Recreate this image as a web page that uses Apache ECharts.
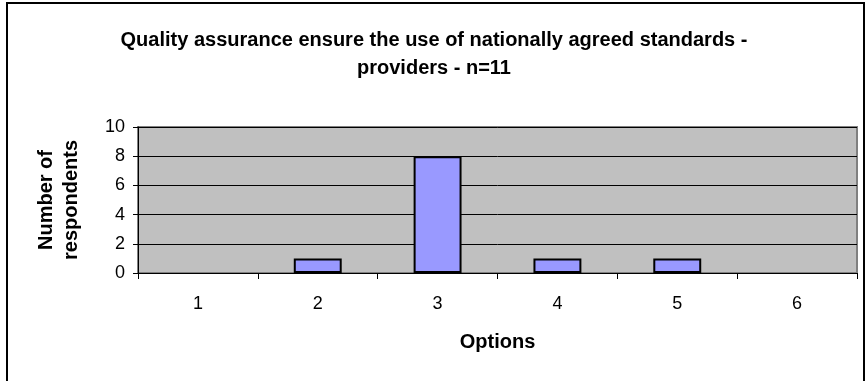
<!DOCTYPE html>
<html>
<head>
<meta charset="utf-8">
<title>Quality assurance - providers</title>
<script src="https://cdn.jsdelivr.net/npm/echarts@6/dist/echarts.min.js"></script>
<style>
  html, body { margin: 0; padding: 0; background: #fff; }
  #chart { width: 868px; height: 381px; }
</style>
</head>
<body>
<div id="chart"></div>
<script>
// data
var titleText = 'Quality assurance ensure the use of nationally agreed standards -\nproviders - n=11'
var categories = ['1', '2', '3', '4', '5', '6']
var respondents = [0, 1, 8, 1, 1, 0]
var yTicks = [0, 2, 4, 6, 8, 10]

var font = 'Arial, "Liberation Sans", sans-serif'

// a zero bar draws no outline in the original
var barData = respondents.map(function(v) {
  return v === 0 ? { value: v, itemStyle: { borderWidth: 0, opacity: 0 } } : v
})

var chart = echarts.init(document.getElementById('chart'))
var option = {
  animation: false,
  backgroundColor: '#fff',
  textStyle: { fontFamily: font },
  title: {
    text: titleText,
    left: 'center',
    top: 21,
    textStyle: {
      fontFamily: font,
      fontSize: 20,
      fontWeight: 'bold',
      color: '#000',
      lineHeight: 28
    }
  },
  // outer frame of the chart
  graphic: [
    {
      type: 'rect',
      shape: { x: 7, y: 3, width: 857, height: 400 },
      style: { fill: 'none', stroke: '#000', lineWidth: 2 },
      silent: true
    }
  ],
  grid: {
    left: 138,
    top: 127,
    right: 11,
    bottom: 108,
    show: true,
    backgroundColor: '#c0c0c0',
    borderColor: '#808080',
    borderWidth: 2
  },
  xAxis: {
    type: 'category',
    data: categories,
    name: 'Options',
    nameLocation: 'middle',
    nameGap: 59,
    nameTextStyle: { fontFamily: font, fontSize: 20, fontWeight: 'bold', color: '#000' },
    axisLine: { show: true, lineStyle: { color: '#000', width: 1 } },
    axisTick: { show: true, length: 6, lineStyle: { color: '#000' } },
    axisLabel: { fontFamily: font, fontSize: 18, color: '#000', margin: 22 },
    splitLine: { show: false }
  },
  yAxis: {
    type: 'value',
    min: yTicks[0],
    max: yTicks[yTicks.length - 1],
    interval: 2,
    name: 'Number of\nrespondents',
    nameLocation: 'middle',
    nameRotate: 90,
    nameGap: 54,
    nameTextStyle: { fontFamily: font, fontSize: 20, fontWeight: 'bold', color: '#000', lineHeight: 25 },
    axisLine: { show: true, lineStyle: { color: '#000', width: 1 } },
    axisTick: { show: true, length: 5, lineStyle: { color: '#000' } },
    axisLabel: { fontFamily: font, fontSize: 18, color: '#000', margin: 13 },
    splitLine: { show: true, lineStyle: { color: '#000', width: 1 } }
  },
  series: [
    {
      type: 'bar',
      data: barData,
      barWidth: '40%',
      itemStyle: { color: '#9999ff', borderColor: '#000', borderWidth: 2 }
    }
  ]
}
chart.setOption(option)
</script>
</body>
</html>
